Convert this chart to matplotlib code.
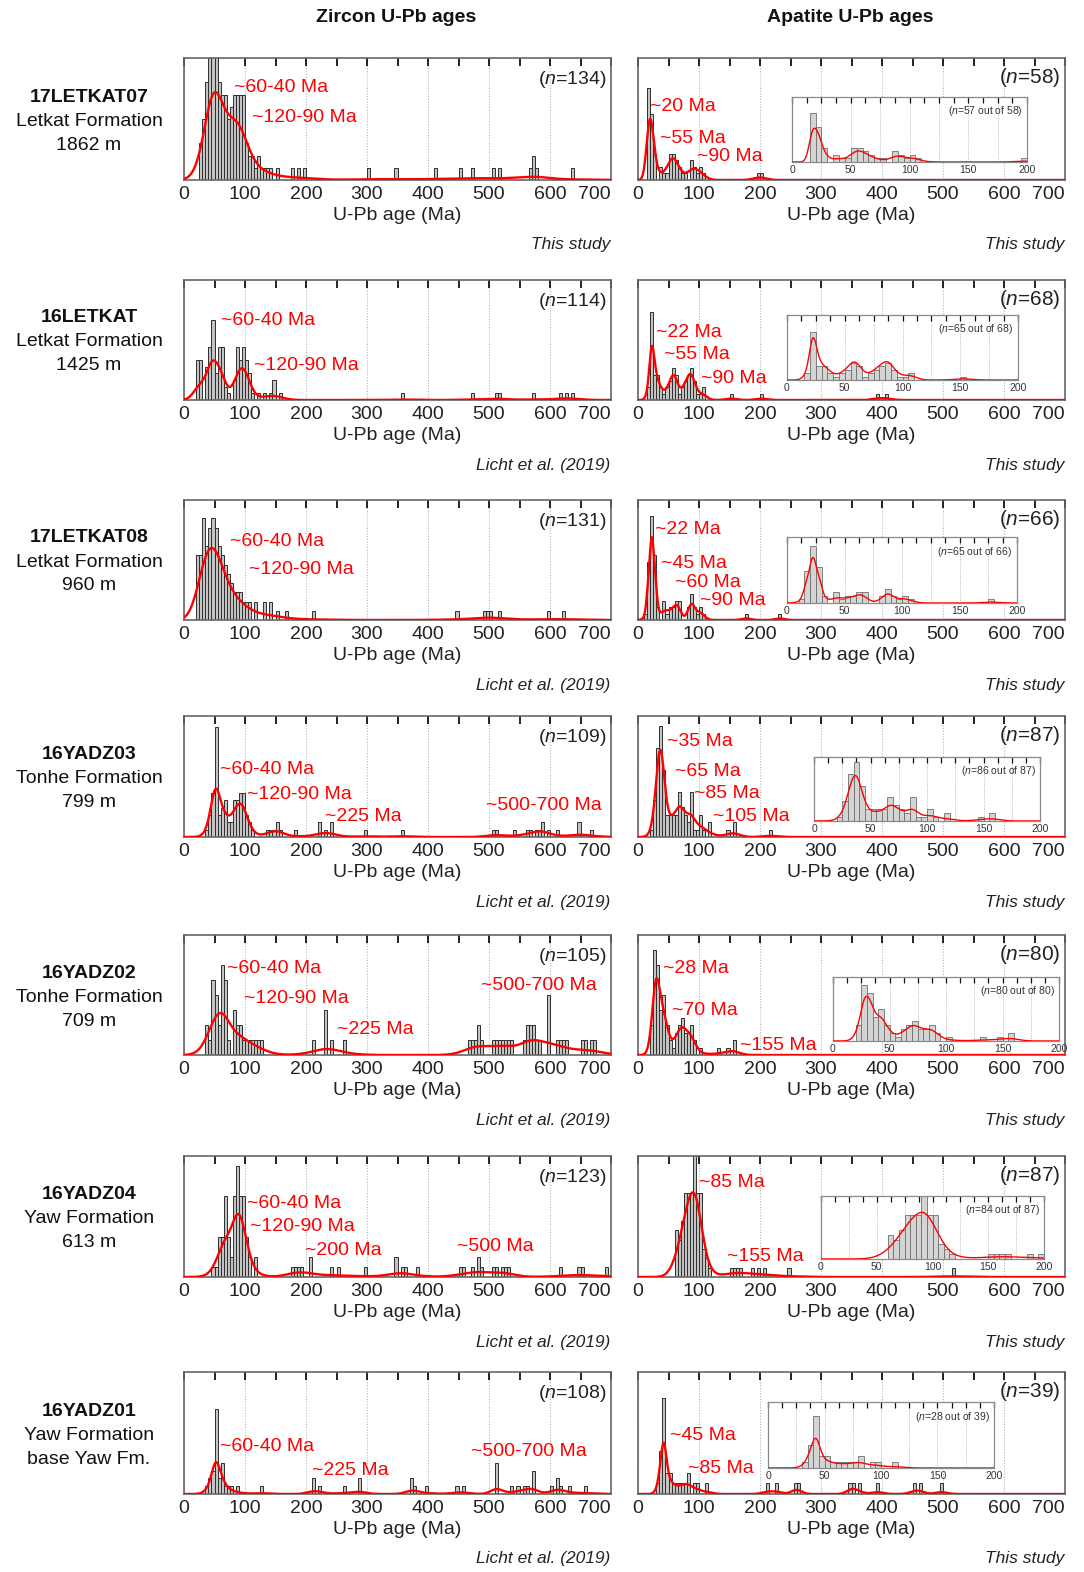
import numpy as np
import matplotlib
matplotlib.use("Agg")
import matplotlib.pyplot as plt
from matplotlib.ticker import MultipleLocator, FuncFormatter

plt.rcParams['font.family'] = ['Liberation Sans', 'DejaVu Sans']
plt.rcParams['mathtext.fontset'] = 'custom'
plt.rcParams['mathtext.rm'] = 'Liberation Sans'
plt.rcParams['mathtext.it'] = 'Liberation Sans:italic'

# ---------------- data (5-Ma bin start ages and grain counts) ----------------
z1_age = [25, 30, 35, 40, 45, 50, 55, 60, 65, 70, 75, 80, 85, 90, 95, 100, 105, 110, 115, 120, 125, 130, 135, 140, 150,
          175, 185, 195, 300, 345, 410, 450, 470, 505, 515, 565, 570, 575, 635]
z1_cnt = [3, 5, 8, 10, 12, 12, 8, 7, 7, 5, 6, 7, 7, 7, 7, 3, 2, 2, 1, 2, 1, 1, 1, 1, 1,
          1, 1, 1, 1, 1, 1, 1, 1, 1, 1, 1, 2, 1, 1]

z2_age = [20, 25, 35, 40, 45, 50, 55, 60, 65, 70, 80, 85, 90, 95, 100, 105, 110, 120, 130, 140, 145, 155,
          355, 470, 510, 515, 570, 615, 625, 635]
z2_cnt = [6, 6, 5, 8, 12, 4, 8, 8, 2, 1, 3, 8, 6, 8, 6, 4, 1, 1, 1, 1, 3, 1,
          1, 1, 1, 1, 1, 1, 1, 1]

z3_age = [20, 25, 30, 35, 40, 45, 50, 55, 60, 65, 70, 75, 80, 85, 90, 95, 100, 105, 115, 130, 140, 150, 165,
          210, 445, 490, 495, 500, 515, 595, 620]
z3_cnt = [7, 7, 11, 8, 10, 11, 10, 8, 7, 6, 5, 4, 3, 3, 3, 2, 2, 2, 2, 2, 2, 1, 1,
          1, 1, 1, 1, 1, 1, 1, 1]

z4_age = [35, 40, 45, 50, 55, 60, 65, 70, 75, 80, 85, 90, 95, 100, 105, 110, 135, 140, 145, 150, 155, 180,
          220, 230, 240, 295, 355, 505, 510, 540, 560, 565, 575, 580, 585, 595, 610, 645, 665]
z4_cnt = [1, 3, 6, 15, 3, 4, 5, 2, 2, 5, 5, 6, 6, 3, 2, 1, 1, 1, 1, 2, 1, 1,
          2, 1, 2, 1, 1, 1, 1, 1, 1, 1, 1, 1, 2, 1, 1, 2, 1]

z5_age = [35, 40, 45, 50, 55, 60, 65, 70, 80, 85, 90, 95, 100, 105, 110, 115, 120, 125, 210, 230, 240, 260,
          465, 470, 475, 480, 485, 505, 510, 515, 520, 525, 530, 535, 555, 560, 565, 570, 575, 580, 595,
          610, 615, 620, 625, 650, 655, 665, 670]
z5_cnt = [2, 1, 5, 4, 2, 6, 5, 1, 3, 2, 2, 1, 1, 1, 1, 1, 1, 1, 1, 3, 1, 1,
          1, 1, 1, 2, 1, 1, 1, 1, 1, 1, 1, 1, 1, 2, 2, 2, 1, 1, 4,
          1, 1, 1, 1, 1, 1, 1, 1]

z6_age = [45, 50, 55, 60, 65, 70, 75, 80, 85, 90, 95, 100, 105, 115, 175, 180, 185, 190, 205, 240, 250, 295,
          345, 355, 360, 380, 450, 455, 470, 480, 485, 505, 510, 520, 525, 530, 615, 645, 650, 690]
z6_cnt = [1, 1, 4, 4, 8, 4, 2, 8, 11, 8, 8, 4, 2, 2, 1, 1, 1, 1, 2, 1, 1, 1,
          2, 1, 1, 1, 1, 1, 1, 2, 1, 1, 1, 1, 1, 1, 1, 1, 1, 1]

z7_age = [35, 40, 45, 50, 55, 60, 65, 70, 75, 85, 125, 210, 220, 260, 285, 370, 375, 395, 445, 455, 510,
          535, 545, 555, 560, 570, 600, 610, 615, 630, 655]
z7_cnt = [1, 2, 3, 11, 2, 4, 1, 1, 1, 1, 1, 2, 1, 1, 2, 2, 1, 1, 1, 1, 4,
          1, 1, 1, 1, 3, 1, 2, 1, 1, 1]

a1_age = [15, 20, 25, 35, 40, 45, 50, 55, 60, 65, 70, 75, 85, 90, 95, 100, 105, 195, 200]
a1_cnt = [14, 10, 4, 2, 1, 1, 4, 4, 3, 2, 1, 1, 3, 2, 1, 2, 1, 1, 1]

a2_age = [15, 20, 25, 30, 35, 40, 45, 50, 55, 60, 65, 70, 75, 80, 85, 90, 95, 100, 105, 150, 200, 390, 405]
a2_cnt = [2, 14, 4, 4, 2, 1, 2, 3, 5, 4, 1, 2, 3, 4, 5, 3, 1, 1, 2, 1, 1, 1, 1]

a3_age = [10, 15, 20, 25, 30, 40, 45, 50, 55, 60, 65, 80, 85, 90, 95, 100, 105, 175, 230]
a3_cnt = [1, 9, 16, 10, 2, 3, 1, 2, 2, 3, 3, 2, 4, 2, 1, 2, 1, 1, 1]

a4_age = [20, 25, 30, 35, 40, 45, 50, 55, 60, 65, 70, 75, 80, 85, 90, 95, 100, 105, 115, 145, 155, 215]
a4_cnt = [1, 5, 12, 15, 9, 3, 3, 3, 3, 6, 4, 3, 2, 6, 1, 1, 3, 1, 2, 1, 2, 1]

a5_age = [20, 25, 30, 35, 40, 45, 50, 55, 60, 65, 70, 75, 80, 85, 90, 100, 130, 145, 155]
a5_cnt = [4, 14, 12, 6, 8, 4, 2, 1, 3, 4, 5, 3, 3, 4, 2, 1, 1, 1, 2]

a6_age = [60, 65, 70, 75, 80, 85, 90, 95, 100, 105, 110, 115, 150, 155, 160, 165, 185, 195, 205, 245, 515]
a6_cnt = [5, 4, 6, 9, 9, 9, 14, 9, 9, 3, 2, 1, 1, 1, 1, 1, 1, 1, 1, 1, 1]

a7_age = [30, 35, 40, 45, 50, 55, 60, 65, 70, 75, 80, 90, 95, 110,
          210, 225, 255, 260, 345, 350, 360, 390, 450, 460, 495]
a7_cnt = [1, 4, 9, 2, 2, 1, 1, 1, 1, 1, 2, 1, 1, 1,
          1, 1, 1, 1, 1, 1, 1, 1, 1, 1, 1]

samples = ["17LETKAT07", "16LETKAT", "17LETKAT08", "16YADZ03", "16YADZ02", "16YADZ04", "16YADZ01"]
formations = ["Letkat Formation", "Letkat Formation", "Letkat Formation", "Tonhe Formation",
              "Tonhe Formation", "Yaw Formation", "Yaw Formation"]
heights = ["1862 m", "1425 m", "960 m", "799 m", "709 m", "613 m", "base Yaw Fm."]
zr_n = [134, 114, 131, 109, 105, 123, 108]
ap_n = [58, 68, 66, 87, 80, 87, 39]
ap_inset_n = [57, 65, 65, 86, 80, 84, 28]
zr_source = ["This study", "Licht et al. (2019)", "Licht et al. (2019)", "Licht et al. (2019)",
             "Licht et al. (2019)", "Licht et al. (2019)", "Licht et al. (2019)"]
ap_source = ["This study"] * 7

zr_peaks = [["~60-40 Ma", "~120-90 Ma"],
            ["~60-40 Ma", "~120-90 Ma"],
            ["~60-40 Ma", "~120-90 Ma"],
            ["~60-40 Ma", "~120-90 Ma", "~225 Ma", "~500-700 Ma"],
            ["~60-40 Ma", "~120-90 Ma", "~225 Ma", "~500-700 Ma"],
            ["~60-40 Ma", "~120-90 Ma", "~200 Ma", "~500 Ma"],
            ["~60-40 Ma", "~225 Ma", "~500-700 Ma"]]
ap_peaks = [["~20 Ma", "~55 Ma", "~90 Ma"],
            ["~22 Ma", "~55 Ma", "~90 Ma"],
            ["~22 Ma", "~45 Ma", "~60 Ma", "~90 Ma"],
            ["~35 Ma", "~65 Ma", "~85 Ma", "~105 Ma"],
            ["~28 Ma", "~70 Ma", "~155 Ma"],
            ["~85 Ma", "~155 Ma"],
            ["~45 Ma", "~85 Ma"]]

zr_ages = [z1_age, z2_age, z3_age, z4_age, z5_age, z6_age, z7_age]
zr_cnts = [z1_cnt, z2_cnt, z3_cnt, z4_cnt, z5_cnt, z6_cnt, z7_cnt]
ap_ages = [a1_age, a2_age, a3_age, a4_age, a5_age, a6_age, a7_age]
ap_cnts = [a1_cnt, a2_cnt, a3_cnt, a4_cnt, a5_cnt, a6_cnt, a7_cnt]

# ---------------- styling / layout ----------------
BIN = 5
ADAPT = 0.3
zr_ylim = [10, 18, 13, 16.5, 8, 12, 15.7]
ap_ylim = [18.5, 19, 18.5, 16.3, 16, 13, 11.4]
zr_bw = [14, 9, 13, 9, 16, 12, 9]
ap_bw = [6, 5, 4, 6, 6, 10, 6]
ap_inset_bw = [4, 4, 3.5, 4.5, 4.5, 9, 4.5]
zr_frac = [0.72, 0.33, 0.60, 0.40, 0.35, 0.52, 0.26]
ap_frac = [0.50, 0.45, 0.69, 0.72, 0.64, 0.70, 0.42]
ap_inset_frac = [0.52, 0.65, 0.69, 0.71, 0.70, 0.74, 0.45]

zr_peak_pos = [[(82, 0.76), (111, 0.51)],
               [(61, 0.66), (115, 0.29)],
               [(75, 0.65), (107, 0.42)],
               [(59, 0.56), (103, 0.35), (231, 0.17), (495, 0.26)],
               [(70, 0.72), (98, 0.47), (251, 0.21), (487, 0.58)],
               [(103, 0.61), (108, 0.42), (198, 0.22), (448, 0.25)],
               [(59, 0.39), (210, 0.19), (470, 0.35)]]
ap_peak_pos = [[(20, 0.60), (36, 0.34), (97, 0.19)],
               [(29, 0.56), (43, 0.38), (103, 0.18)],
               [(28, 0.75), (38, 0.47), (61, 0.31), (101, 0.16)],
               [(48, 0.79), (61, 0.54), (92, 0.36), (123, 0.17)],
               [(41, 0.72), (56, 0.37), (167, 0.08)],
               [(100, 0.78), (146, 0.17)],
               [(52, 0.48), (82, 0.21)]]

rows = [(58, 180), (280, 400), (500, 620), (716, 837), (935, 1055), (1156, 1277), (1372, 1494)]
LX = (184, 611)
RX = (638, 1065)
insets = [(792, 97, 1027, 162), (787, 315, 1018, 380), (787, 537, 1017, 603), (814, 757, 1040, 821),
          (833, 977, 1059, 1041), (821, 1196, 1044, 1259), (768, 1402, 994, 1468)]

W, H = 1084, 1572
fig = plt.figure(figsize=(W / 100, H / 100), dpi=100)


def add_px_axes(x0, y0, x1, y1):
    return fig.add_axes([x0 / W, 1 - y1 / H, (x1 - x0) / W, (y1 - y0) / H])


def kde(ages, grid, bw):
    a = np.asarray(ages, float)
    pilot = np.exp(-0.5 * ((a[:, None] - a[None, :]) / bw) ** 2).sum(1)
    g = np.exp(np.mean(np.log(pilot)))
    h = bw * (pilot / g) ** -ADAPT
    return (np.exp(-0.5 * ((grid[:, None] - a[None, :]) / h[None, :]) ** 2) / h[None, :]).sum(1)


def draw_hist_kde(ax, starts, counts, ylim, bw, frac, xmax, inset=False):
    ages = np.repeat(np.asarray(starts, float) + BIN / 2, counts)
    ages = ages[ages < xmax]
    bins = np.arange(0, xmax + BIN, BIN)
    if inset:
        ax.hist(ages, bins=bins, facecolor='#d4d4d4', edgecolor='#6e6e6e', linewidth=0.6, zorder=2)
    else:
        ax.hist(ages, bins=bins, facecolor='#c4c4c4', edgecolor='#2e2e2e', linewidth=0.7, zorder=2)
    ax.set_xlim(0, xmax)
    ax.set_ylim(0, ylim)
    grid = np.linspace(0, xmax, 1401)
    d = kde(ages, grid, bw)
    ax.plot(grid, d / d.max() * frac, color='#ff0000', lw=1.0 if inset else 1.7,
            transform=ax.get_xaxis_transform(), zorder=3)
    ax.set_yticks([])
    for s in ax.spines.values():
        s.set_color('#666666' if not inset else '#8a8a8a')
        s.set_linewidth(1.2 if not inset else 0.9)


def style_main(ax):
    ax.xaxis.set_minor_locator(MultipleLocator(50))
    ax.set_xticks(np.arange(0, 701, 100))
    ax.set_xticklabels([str(v) for v in range(0, 701, 100)])
    ax.grid(True, axis='x', which='major', color='#b5b5b5', linestyle=(0, (1, 1.5)), linewidth=0.8)
    ax.set_axisbelow(True)
    ax.tick_params(axis='x', which='both', direction='in', top=True, bottom=False, length=6,
                   width=1.3, color='#111111', labelsize=14, pad=4, labelcolor='#222222')
    lbls = ax.get_xticklabels()
    lbls[-1].set_horizontalalignment('right')
    ax.set_xlabel('U-Pb age (Ma)', fontsize=14, color='#222222', labelpad=3)


def style_inset(ax):
    ax.xaxis.set_major_locator(MultipleLocator(25))
    ax.xaxis.set_minor_locator(MultipleLocator(12.5))
    ax.xaxis.set_major_formatter(FuncFormatter(lambda v, p: f"{int(v)}" if v % 50 == 0 else ""))
    ax.grid(True, axis='x', which='major', color='#b5b5b5', linestyle=(0, (1, 1.5)), linewidth=0.7)
    ax.set_axisbelow(True)
    ax.tick_params(axis='x', which='both', direction='in', top=True, bottom=False, length=4,
                   width=0.9, color='#111111', labelsize=7.5, pad=2, labelcolor='#333333')


for i, (y0, y1) in enumerate(rows):
    # ---- zircon ----
    axz = add_px_axes(LX[0], y0, LX[1], y1)
    draw_hist_kde(axz, zr_ages[i], zr_cnts[i], zr_ylim[i], zr_bw[i], zr_frac[i], 700)
    style_main(axz)
    for txt, (px, py) in zip(zr_peaks[i], zr_peak_pos[i]):
        axz.text(px, py, txt, color='#ff0000', fontsize=14, va='center', ha='left',
                 transform=axz.get_xaxis_transform(), zorder=5)
    axz.text(0.99, 0.82, r"($n$=%d)" % zr_n[i], transform=axz.transAxes, ha='right', va='center',
             fontsize=14, color='#222222')
    fig.text(LX[1] / W - 0.001, 1 - (y1 + 65) / H, zr_source[i], ha='right', va='center',
             fontsize=12.5, style='italic', color='#222222')

    # ---- apatite ----
    axa = add_px_axes(RX[0], y0, RX[1], y1)
    draw_hist_kde(axa, ap_ages[i], ap_cnts[i], ap_ylim[i], ap_bw[i], ap_frac[i], 700)
    style_main(axa)
    for txt, (px, py) in zip(ap_peaks[i], ap_peak_pos[i]):
        axa.text(px, py, txt, color='#ff0000', fontsize=14, va='center', ha='left',
                 transform=axa.get_xaxis_transform(), zorder=5)
    axa.text(0.99, 0.84, r"($n$=%d)" % ap_n[i], transform=axa.transAxes, ha='right', va='center',
             fontsize=15, color='#222222')
    fig.text(RX[1] / W - 0.001, 1 - (y1 + 65) / H, ap_source[i], ha='right', va='center',
             fontsize=12.5, style='italic', color='#222222')

    # ---- apatite inset (0-200 Ma) ----
    ix0, iy0, ix1, iy1 = insets[i]
    axi = add_px_axes(ix0, iy0, ix1, iy1)
    axi.set_facecolor('white')
    draw_hist_kde(axi, ap_ages[i], ap_cnts[i], ap_ylim[i], ap_inset_bw[i], ap_inset_frac[i], 200,
                  inset=True)
    style_inset(axi)
    axi.text(0.98, 0.78, r"($n$=%d out of %d)" % (ap_inset_n[i], ap_n[i]), transform=axi.transAxes,
             ha='right', va='center', fontsize=7.5, color='#333333', zorder=6)

    # ---- row labels ----
    yc = (y0 + y1) / 2 + 2
    fig.text(89 / W, 1 - (yc - 24) / H, samples[i], ha='center', va='center', fontsize=14,
             fontweight='bold', color='#111111')
    fig.text(89 / W, 1 - yc / H, formations[i], ha='center', va='center', fontsize=14, color='#111111')
    fig.text(89 / W, 1 - (yc + 24) / H, heights[i], ha='center', va='center', fontsize=14, color='#111111')

fig.text(396 / W, 1 - 18 / H, "Zircon U-Pb ages", ha='center', va='center', fontsize=14,
         fontweight='bold', color='#111111')
fig.text(850 / W, 1 - 18 / H, "Apatite U-Pb ages", ha='center', va='center', fontsize=14,
         fontweight='bold', color='#111111')

fig.savefig("out.png", dpi=100, facecolor='white')
